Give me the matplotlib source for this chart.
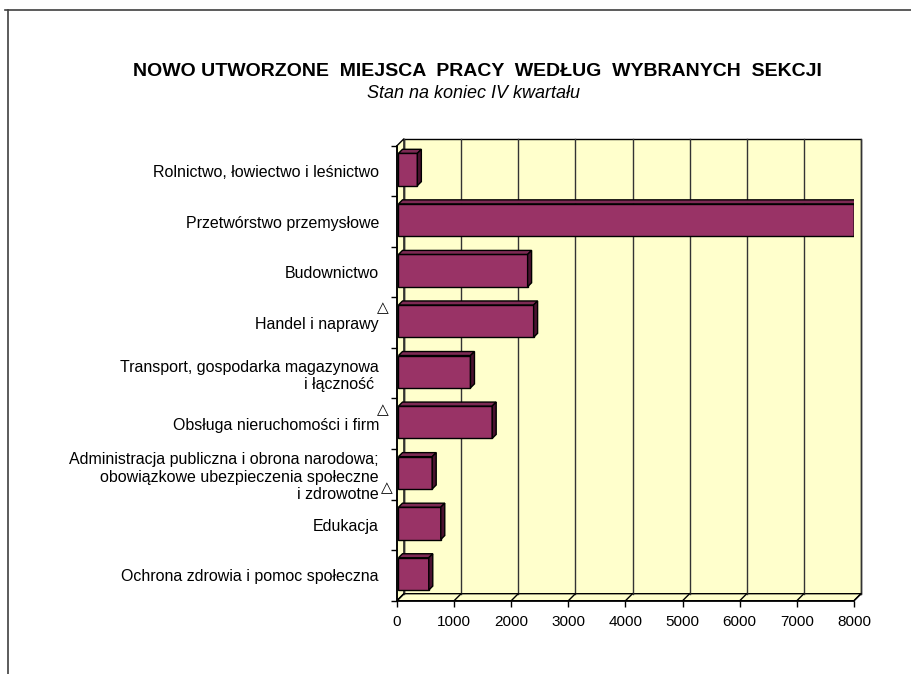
import matplotlib
matplotlib.use("Agg")
import matplotlib.pyplot as plt
from matplotlib.patches import Polygon
from matplotlib.lines import Line2D

plt.rcParams['font.family'] = ['Liberation Sans', 'DejaVu Sans']

# --- DATA ---
categories = [
    'Rolnictwo, łowiectwo i leśnictwo',
    'Przetwórstwo przemysłowe',
    'Budownictwo',
    'Handel i naprawy',
    'Transport, gospodarka magazynowa\ni łączność ',
    'Obsługa nieruchomości i firm',
    'Administracja publiczna i obrona narodowa;\nobowiązkowe ubezpieczenia społeczne\ni zdrowotne',
    'Edukacja',
    'Ochrona zdrowia i pomoc społeczna',
]
values = [330, 7980, 2260, 2365, 1260, 1640, 590, 740, 530]
marked = [3, 5, 6]   # categories with the triangle sign
x_ticks = [0, 1000, 2000, 3000, 4000, 5000, 6000, 7000, 8000]

title = 'NOWO UTWORZONE  MIEJSCA  PRACY  WEDŁUG  WYBRANYCH  SEKCJI'
subtitle = 'Stan na koniec IV kwartału'

# --- STYLE ---
face_col = '#993366'
top_col = '#7d2a54'
side_col = '#4a1230'
wall_col = '#FFFFCC'
W, H = 912, 674
depth = 7.0      # px of 3D depth
bar_depth = 4.0
bar_off = 1.5
bar_h = 0.64

fig = plt.figure(figsize=(W / 100, H / 100), dpi=100)
ax_l, ax_r, ax_t, ax_b = 397, 854, 145.7, 600.7
ax = fig.add_axes([ax_l / W, 1 - ax_b / H, (ax_r - ax_l) / W, (ax_b - ax_t) / H])
n = len(categories)
ax.set_xlim(0, 8000)
ax.set_ylim(n - 0.5, -0.5)
ax.set_facecolor('none')
for s in ax.spines.values():
    s.set_visible(False)

sx = 8000 / (ax_r - ax_l)     # data units per px
sy = n / (ax_b - ax_t)
dx, dy = depth * sx, depth * sy
y0, y1 = -0.5, n - 0.5

# walls
back = Polygon([(dx, y0 - dy), (8000 + dx, y0 - dy), (8000 + dx, y1 - dy), (dx, y1 - dy)],
               closed=True, facecolor=wall_col, edgecolor='black', lw=1, zorder=1)
left = Polygon([(0, y0), (dx, y0 - dy), (dx, y1 - dy), (0, y1)],
               closed=True, facecolor=wall_col, edgecolor='black', lw=1, zorder=1)
floor = Polygon([(0, y1), (8000, y1), (8000 + dx, y1 - dy), (dx, y1 - dy)],
                closed=True, facecolor=wall_col, edgecolor='black', lw=1, zorder=1)
for p in (back, left, floor):
    p.set_clip_on(False)
    ax.add_patch(p)

for t in x_ticks:
    ax.plot([t + dx, t + dx], [y0 - dy, y1 - dy], color='#333333', lw=1, zorder=1.5, clip_on=False)
    ax.plot([t, t + dx], [y1, y1 - dy], color='black', lw=1, zorder=1.5, clip_on=False)

# bars with 3D faces
ox, oy = bar_off * sx, bar_off * sy
bx, by = bar_depth * sx, bar_depth * sy
for i, v in enumerate(values):
    top = i - bar_h / 2 - oy
    bot = i + bar_h / 2 - oy
    ax.barh(i - oy, v, height=bar_h, left=ox, color=face_col, edgecolor='black', lw=1, zorder=3)
    ax.add_patch(Polygon([(ox, top), (ox + v, top), (ox + v + bx, top - by), (ox + bx, top - by)],
                         closed=True, facecolor=top_col, edgecolor='black', lw=1, zorder=3))
    ax.add_patch(Polygon([(ox + v, top), (ox + v, bot), (ox + v + bx, bot - by), (ox + v + bx, top - by)],
                         closed=True, facecolor=side_col, edgecolor='black', lw=1, zorder=3))

# front axes
ax.plot([0, 0], [y0, y1], color='black', lw=1.2, zorder=4, clip_on=False)
ax.plot([0, 8000], [y1, y1], color='black', lw=1.2, zorder=4, clip_on=False)

ax.set_xticks(x_ticks)
ax.set_xticklabels([str(t) for t in x_ticks], fontsize=11)
ax.tick_params(axis='x', direction='out', length=4, width=1, pad=6)

ax.set_yticks([k - 0.5 for k in range(n + 1)])
ax.set_yticklabels([])
ax.tick_params(axis='y', which='major', direction='out', length=4, width=1)
ax.set_yticks(range(n), minor=True)
ax.set_yticklabels(categories, minor=True, fontsize=11.5)
ax.tick_params(axis='y', which='minor', length=0, pad=13)

for i in marked:
    ax.annotate('△', xy=(0, i), xycoords=ax.get_yaxis_transform(),
                xytext=(-10 if i != 6 else -7.5, 10.5 if i != 6 else -9.5), textcoords='offset points',
                ha='center', va='center', fontsize=11, family=['DejaVu Sans'])

# titles
fig.text(477 / W, 1 - 72 / H, title, ha='center', va='center', fontsize=14, fontweight='bold')
fig.text(474 / W, 1 - 94 / H, subtitle, ha='center', va='center', fontsize=13, style='italic')

# outer frame
fig.add_artist(Line2D([5 / W, 1], [1 - 9.5 / H, 1 - 9.5 / H], color='#404040', lw=1.2))
fig.add_artist(Line2D([8 / W, 8 / W], [0, 1 - 9.5 / H], color='#404040', lw=1.2))

fig.savefig('out.png', dpi=100)
